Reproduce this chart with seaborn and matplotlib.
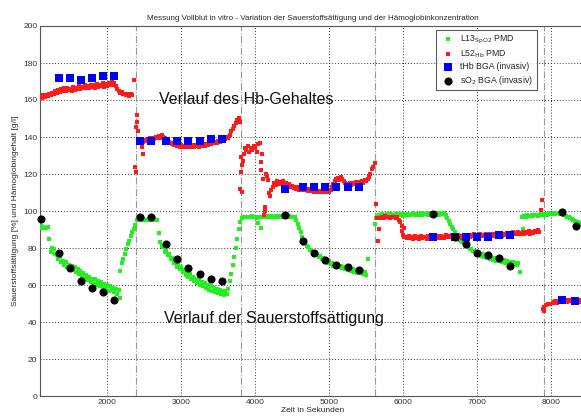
import numpy as np
import pandas as pd
import seaborn as sns
from matplotlib import pyplot as plt

# sample clock of the PMD sensors (s)
STEP = 20

# L13 SpO2 PMD, green (start time, values every STEP s)
spo2_a_t0 = 1100
spo2_a = [92, 91, 91.5, 91, 91, 91.5, 85, 78, 80, 79.5, 77,
          76, 74, 75, 72.5, 73, 71, 72.5, 70, 71, 69.5, 70.5, 68, 69.5, 67, 68.5,
          66, 67.5, 64.5, 66.5, 63.5, 65.5, 62.5, 64.5, 61.5, 63.5, 60.5, 63, 60,
          62, 59.5, 61.5, 58.5, 60.5, 58, 60, 57, 59.5, 57.5, 58.5, 56, 58, 55,
          57.5, 53]
spo2_b_t0 = 2200
spo2_b = [72, 74, 77, 79.5, 82, 84, 86.5, 88.5, 90.5, 92.5,
          95, 95.5, 95, 95, 95.5, 95, 95, 95, 95.5, 95, 95, 95, 95.5, 95, 95, 88]
spo2_c_t0 = 2720
spo2_c = [83, 81, 80.5, 78, 78.5, 76, 76.5, 74, 74.5, 72, 72.5, 70, 71, 68.5,
          69.5, 67, 68, 65.5, 67, 64.5, 66, 63.5, 64.5, 62, 63.5, 61, 62.5, 60,
          61.5, 59.5, 61, 58.5, 60, 57.5, 59.5, 57, 58.5, 56, 58, 55.5, 57.5, 55,
          57, 54.5, 56.5, 55,
          58, 62, 66, 71, 75, 80, 85, 90, 94]
spo2_d_t0 = 3820
spo2_d = [96, 97, 96.5, 97, 97, 96.5, 97, 97.5, 96.5, 97,
          96, 93.5, 97, 91, 97, 96.5, 97, 97.5, 97, 97,
          97.5, 97, 96.5, 97.5, 97, 97, 97.5, 97, 96.5, 97.5,
          97, 97, 97.5, 97, 96.5, 97, 96.5,
          95, 93, 91, 88.5, 86, 84, 83, 81, 80.5, 79, 79, 77.5, 77.5, 76, 76.5,
          75, 75.5, 74, 74.5, 73, 73.5, 72, 73, 71.5, 72, 70.5, 71.5, 70, 71,
          69.5, 70.5, 69, 70, 68.5, 69.5, 68, 69, 67.5, 68.5, 67, 68, 66.5, 68,
          66.5, 67.5, 66, 67, 65.5, 74]
spo2_e_t0 = 5620
spo2_e = [93, 96, 97.5, 98, 97.5, 98.5, 98, 97.5, 98.5, 98,
          98, 98.5, 97.5, 98, 98.5, 98, 98, 98.5, 98, 97.5,
          98.5, 98, 98.5, 98, 98, 98.5, 99, 98, 98.5, 98,
          98.5, 99, 98, 98.5, 98.5, 99, 98, 98.5, 99, 98.5,
          98.5, 99, 98.5, 98, 99, 98.5, 98.5, 99, 98,
          96, 94.5, 93, 91.5, 90, 88.5, 87, 86, 84.5, 84, 83, 82.5, 81.5, 81,
          80.5, 79.5, 79.5, 78.5, 78.5, 77.5, 77.5, 76.5, 77, 75.5, 76.5, 75,
          75.5, 74.5, 75, 74, 74.5, 73.5, 74.5, 73, 74, 73, 73.5, 72.5, 73.5,
          72, 73, 72, 72.5, 71.5, 72.5, 71.5, 72, 71, 72, 67]
spo2_f_t0 = 7620
spo2_f = [90, 97.5, 97, 98, 97.5, 97.5, 98, 97.5, 98, 98, 97.5, 98, 98.5, 98,
          98, 98.5, 98, 98.5, 99, 98.5, 98.5, 99, 98.5, 99, 99, 98.5, 99,
          98.5, 98, 97.5, 97, 96.5, 96, 95.5, 95, 94.5, 94, 94, 93.5, 93, 92.5, 92]

# L52 Hb PMD, red
hb_a_t0 = 1100
hb_a = [162, 161, 162.5, 161.5, 162.5, 162, 163, 162.5, 164, 163.5, 165, 164,
        165.5, 164.5, 166, 165, 166.5, 165, 166.5, 165.5, 166, 165, 167, 165.5,
        166.5, 166, 167.5, 166, 167, 166.5, 168, 166.5, 167.5, 166.5, 168, 167,
        168, 166.5, 168.5, 167, 168, 167.5, 169, 167, 168.5, 167.5, 169, 168,
        169.5, 168, 169, 167.5, 166, 165, 164, 164.5, 163, 163.5, 162.5, 163,
        162, 163.5, 162.5, 171]
hb_b_t0 = 2440
hb_b = [138, 139, 137.5, 138.5, 138, 139, 138, 139.5, 138.5, 139.5, 139, 140,
        139.5, 140.5, 139.5, 141, 140, 139.5, 139, 138, 137.5, 136.5, 136, 135.5,
        136, 135, 135.5, 134.5, 135.5, 134.5, 135, 134.5, 135.5, 134.5, 135,
        134.5, 135.5, 134.5, 135, 135.5, 134.5, 135.5, 135, 136, 135, 136, 135.5,
        136.5, 136, 137, 136.5, 137.5, 137, 138, 137.5, 138.5, 138, 139, 139, 140,
        139.5, 141, 143, 144.5, 146, 147.5, 149, 150, 148]
hb_c_t0 = 4240
hb_c = [113, 115, 114, 116, 114.5, 115.5, 114.5, 116, 114.5, 115, 113.5, 114.5,
        113, 113.5, 112.5, 113, 112, 113, 111.5, 112.5, 111.5, 112.5, 111.5, 112,
        111, 112, 111, 111.5, 110.5, 111.5, 110.5, 111, 110, 111, 110, 110.5, 110,
        111, 110.5, 111.5, 113, 114.5, 116, 117.5, 118, 117, 118.5, 117.5, 116,
        115, 114.5, 114, 115, 114, 115, 114.5, 115.5, 114.5, 115.5, 115, 116, 115,
        116.5, 116, 117.5, 118.5, 120, 122.5, 124, 126]
hb_d_t0 = 5700
hb_d = [96, 97, 96, 97.5, 96.5, 97, 96, 97, 96.5, 97, 96, 96.5, 95, 94, 92]
hb_e_t0 = 6040
hb_e = [86, 85.5, 86.5, 85.5, 86, 85, 86.5, 85.5, 86, 85,
        86.5, 85.5, 86, 86, 85, 86.5, 85.5, 86, 85.5, 86.5,
        85.5, 86, 86.5, 85.5, 86.5, 86, 85.5, 87, 86, 86.5,
        86, 87, 85.5, 86.5, 86, 87, 86, 86.5, 85.5, 87,
        86.5, 86, 87, 86, 87, 86.5, 87.5, 86, 87, 86.5,
        87.5, 86.5, 87, 86.5, 87.5, 86.5, 87, 87.5, 86.5, 87.5,
        87, 86.5, 87.5, 87, 88, 86.5, 87.5, 87, 88, 87,
        88, 87, 88.5, 87.5, 88, 87.5, 88.5, 87.5, 88, 88.5,
        87.5, 88.5, 88, 89, 87.5, 88.5, 88, 89, 88.5, 89.5, 88.5]
hb_f_t0 = 8040
hb_f = [51, 51.5, 50.5, 51.5, 51, 52, 51, 51.5, 52, 51, 51.5, 52, 51.5, 51, 52,
        51.5, 52, 51.5, 51, 52, 51.5]
# irregular red readings around the changes
hb_x_t = [2380, 2385, 2392, 2400, 2410, 2418, 2430, 2470, 2480,
          3797, 3810, 3814, 3820, 3825, 3837, 3850, 3860, 3880, 3900, 3920, 3940,
          3960, 3980, 4000, 4020, 4040, 4064, 4084, 4086, 4090, 4107, 4115, 4130,
          4132, 4150, 4155, 4175, 4183, 4200, 4220,
          5630, 5650, 5660, 5680, 5990, 6000, 6010, 6020,
          7862, 7884, 7890, 7900, 7910, 7935, 7960, 7990, 8025]
hb_x = [124, 121, 145.5, 148, 152, 143, 137, 134.5, 131,
        112, 129, 121, 125, 110, 127, 131, 134, 133, 135, 132, 134,
        133, 135, 134, 132, 136, 136.5, 126.5, 122, 131, 117.5, 98, 100,
        102, 120, 119, 117, 109.5, 108, 111.5,
        104, 96, 84, 90, 89, 87, 91, 86,
        100.5, 106, 47, 46, 48, 49, 49.5, 50, 50.5]

# BGA reference samples
bga_t = [1350, 1500, 1650, 1800, 1950, 2100,
         2450, 2600, 2800, 2950, 3100, 3250, 3400, 3550,
         4400, 4650, 4800, 4950, 5100, 5250, 5400,
         6400, 6700, 6850, 7000, 7150, 7300, 7450,
         8150, 8330, 8480]
thb_bga = [172, 172, 171, 172, 173, 173,
           138, 138, 138, 138, 138, 138, 139, 139,
           112, 113, 113, 113, 113, 113, 113,
           86, 86, 86, 86, 86, 87, 87,
           52, 51.5, 51.5]
so2_t = [1100, 1350, 1500, 1650, 1800, 1950, 2100,
         2450, 2600, 2800, 2950, 3100, 3250, 3400, 3550,
         4400, 4650, 4800, 4950, 5100, 5250, 5400,
         6400, 6700, 6850, 7000, 7150, 7300, 7450,
         8150, 8340, 8460]
so2_bga = [95.5, 77.5, 69, 62, 58.5, 56, 52,
           96.5, 97, 82, 74, 69, 66, 63.5, 62,
           98, 84, 77.5, 73.5, 71, 69.5, 68,
           98.5, 86, 82, 77.5, 76, 74.5, 70.5,
           99.5, 92, 90]

# times where the blood sample was changed
wechsel = [2390, 3810, 5615, 7900]


def segment(t0, vals):
    return pd.DataFrame({"t": t0 + STEP * np.arange(len(vals)), "v": vals})


spo2 = pd.concat([segment(spo2_a_t0, spo2_a), segment(spo2_b_t0, spo2_b),
                  segment(spo2_c_t0, spo2_c), segment(spo2_d_t0, spo2_d),
                  segment(spo2_e_t0, spo2_e), segment(spo2_f_t0, spo2_f),
                  pd.DataFrame({"t": [2170, 7610], "v": [67.5, 97]})])
hb = pd.concat([segment(hb_a_t0, hb_a), segment(hb_b_t0, hb_b),
                segment(hb_c_t0, hb_c), segment(hb_d_t0, hb_d),
                segment(hb_e_t0, hb_e), segment(hb_f_t0, hb_f),
                pd.DataFrame({"t": hb_x_t, "v": hb_x})])
thb = pd.DataFrame({"t": bga_t, "v": thb_bga})
so2 = pd.DataFrame({"t": so2_t, "v": so2_bga})

sns.set_style("white")
plt.rcParams["font.family"] = ["Liberation Sans", "DejaVu Sans"]

fig = plt.figure(figsize=(5.81, 4.19), dpi=100)
ax = fig.add_axes([40 / 581, 23 / 419, 545 / 581, 370 / 419])

for x in wechsel:
    ax.axvline(x, color="#999999", lw=0.8, ls="-.", zorder=1)

sns.scatterplot(data=spo2, x="t", y="v", ax=ax, color="#22ee22", marker="s",
                s=6, linewidth=0, label="L13$_{\\mathrm{SpO2}}$ PMD", zorder=3)
sns.scatterplot(data=hb, x="t", y="v", ax=ax, color="#ff1a1a", marker="s",
                s=6, linewidth=0, label="L52$_{\\mathrm{Hb}}$ PMD", zorder=3)
sns.scatterplot(data=thb, x="t", y="v", ax=ax, color="#0000ff", marker="s",
                s=30, linewidth=0, label="tHb BGA (invasiv)", zorder=4)
sns.scatterplot(data=so2, x="t", y="v", ax=ax, color="black", marker="o",
                s=34, linewidth=0, label="sO$_2$ BGA (invasiv)", zorder=4,
                clip_on=False)

ax.set_xlim(1093, 8460)
ax.set_ylim(0, 200)
ax.set_xticks(range(2000, 9000, 1000))
ax.set_yticks(range(0, 201, 20))
ax.grid(True, color="#333333", ls=(0, (1, 2)), lw=0.7)
ax.set_axisbelow(True)
ax.tick_params(direction="in", length=3, labelsize=6, colors="#333333",
               pad=2)
for side in ["left", "bottom", "top"]:
    ax.spines[side].set_color("#555555")
    ax.spines[side].set_linewidth(0.8)
ax.spines["right"].set_visible(False)

ax.set_title("Messung Vollblut in vitro - Variation der Sauerstoffsättigung "
             "und der Hämoglobinkonzentration", fontsize=5.8, pad=4)
ax.set_xlabel("Zeit in Sekunden", fontsize=6, labelpad=1)
ax.set_ylabel("Sauerstoffsättigung [%] und Hämoglobingehalt [g/l]",
              fontsize=6, labelpad=3)

ax.text(2697, 160.5, "Verlauf des Hb-Gehaltes", fontsize=11.5, va="center",
        ha="left", color="#111111")
ax.text(2765, 42, "Verlauf der Sauerstoffsättigung", fontsize=11.5,
        va="center", ha="left", color="#111111")

leg = ax.legend(loc="upper left", bbox_to_anchor=(436 / 581, 1 - 30 / 419),
                bbox_transform=fig.transFigure, fontsize=6.3, frameon=True,
                fancybox=False, borderpad=0.4, labelspacing=0.3,
                handletextpad=0.4, borderaxespad=0)
leg.get_frame().set_edgecolor("#333333")
leg.get_frame().set_linewidth(0.8)

fig.savefig("out.png", dpi=100, facecolor="white")
